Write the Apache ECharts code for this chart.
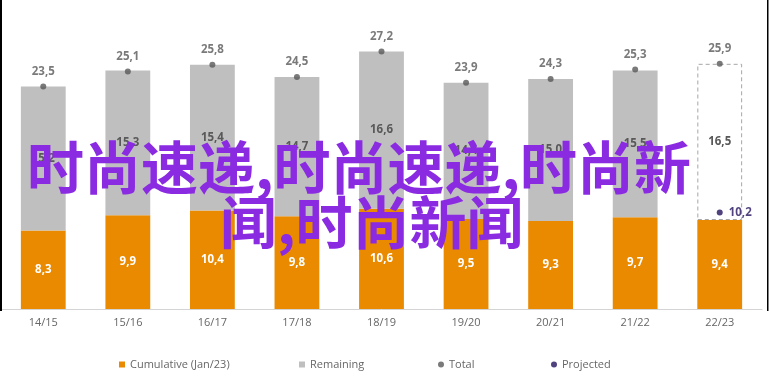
<!DOCTYPE html>
<html>
<head>
<meta charset="utf-8">
<script src="https://cdn.jsdelivr.net/npm/echarts@6/dist/echarts.min.js"></script>
<style>html,body{margin:0;padding:0;background:#fff;}#c{width:770px;height:385px;}</style>
</head>
<body>
<div id="c"></div>
<script>
const categories = ['14/15','15/16','16/17','17/18','18/19','19/20','20/21','21/22','22/23'];
const cumulative = [8.3, 9.9, 10.4, 9.8, 10.6, 9.5, 9.3, 9.7, 9.4];
const remaining = [15.2, 15.3, 15.4, 14.7, 16.6, 14.4, 15.0, 15.5, 16.5];
const totals = [23.5, 25.1, 25.8, 24.5, 27.2, 23.9, 24.3, 25.3, 25.9];
const projectedIndex = 8;
const projectedValue = 10.2;
const legendNames = ['Cumulative (Jan/23)', 'Remaining', 'Total', 'Projected'];
const watermarkLines = ['时尚速递,时尚速递,时尚新', '闻,时尚新闻'];

const fmt = v => (typeof v === 'number' ? v : v[1]).toFixed(1).replace('.', ',');
const labelFont = 'Open Sans';

const remainingData = remaining.map((v, i) => i === remaining.length - 1 ? {
  value: v,
  itemStyle: { color: '#ffffff', borderColor: '#a6a6a6', borderWidth: 1, borderType: [4, 3] }
} : v);

const projectedData = categories.map((c, i) => i === projectedIndex ? projectedValue : '-');

const chart = echarts.init(document.getElementById('c'), null, { renderer: 'canvas' });
const legendBase = {
  top: 354, itemWidth: 6, itemHeight: 6, itemGap: 4,
  textStyle: { color: '#666', fontSize: 11, fontFamily: labelFont },
  selectedMode: false
};
chart.setOption({
  animation: false,
  backgroundColor: '#fff',
  grid: { left: 1, right: 8, top: 25, bottom: 76 },
  xAxis: {
    type: 'category', data: categories,
    axisLine: { lineStyle: { color: '#d4d4d4', width: 1 } },
    axisTick: { show: false },
    axisLabel: { color: '#666', fontSize: 11, fontFamily: labelFont, margin: 8 }
  },
  yAxis: { type: 'value', min: 0, max: 30, show: false, splitLine: { show: false } },
  legend: [
    Object.assign({}, legendBase, { left: 114, data: [{ name: legendNames[0], icon: 'rect' }] }),
    Object.assign({}, legendBase, { left: 294, data: [{ name: legendNames[1], icon: 'rect' }] }),
    Object.assign({}, legendBase, { left: 433, data: [{ name: legendNames[2], icon: 'circle' }] }),
    Object.assign({}, legendBase, { left: 546, data: [{ name: legendNames[3], icon: 'circle' }] })
  ],
  series: [
    {
      name: legendNames[0], type: 'bar', stack: 'a', data: cumulative, barWidth: '53%',
      itemStyle: { color: '#EA8A00' },
      label: { show: true, position: 'inside', color: '#fff', fontWeight: 'bold', fontSize: 11.5, fontFamily: labelFont, formatter: p => fmt(p.value) }
    },
    {
      name: legendNames[1], type: 'bar', stack: 'a', data: remainingData, barWidth: '53%',
      itemStyle: { color: '#BFBFBF' },
      label: { show: true, position: 'inside', color: '#595959', fontWeight: 'bold', fontSize: 11.5, fontFamily: labelFont, formatter: p => fmt(p.value) }
    },
    {
      name: legendNames[2], type: 'scatter', data: totals, symbolSize: 6, z: 5,
      itemStyle: { color: '#595959' },
      label: { show: true, position: 'top', distance: 6, color: '#595959', fontWeight: 'bold', fontSize: 11.5, fontFamily: labelFont, formatter: p => fmt(p.value) }
    },
    {
      name: legendNames[3], type: 'scatter', data: projectedData, symbolSize: 6, z: 5,
      itemStyle: { color: '#24135E' },
      label: { show: true, position: 'right', distance: 6, color: '#24135E', fontWeight: 'bold', fontSize: 11.5, fontFamily: labelFont, formatter: p => fmt(p.value) }
    }
  ],
  graphic: [
    { type: 'rect', left: 0, top: 0, z: 200, shape: { width: 2, height: 311 }, style: { fill: '#000' } },
    { type: 'rect', left: 767, top: 0, z: 200, shape: { width: 1.5, height: 311 }, style: { fill: '#000' } },
    { type: 'text', left: 27, top: 139, z: 300, style: { text: watermarkLines[0], fill: '#8A2BE2', font: 'bold 57px "Noto Sans CJK SC"' } },
    { type: 'text', left: 220, top: 194, z: 300, style: { text: watermarkLines[1], fill: '#8A2BE2', font: 'bold 57px "Noto Sans CJK SC"' } }
  ]
});
</script>
</body>
</html>
